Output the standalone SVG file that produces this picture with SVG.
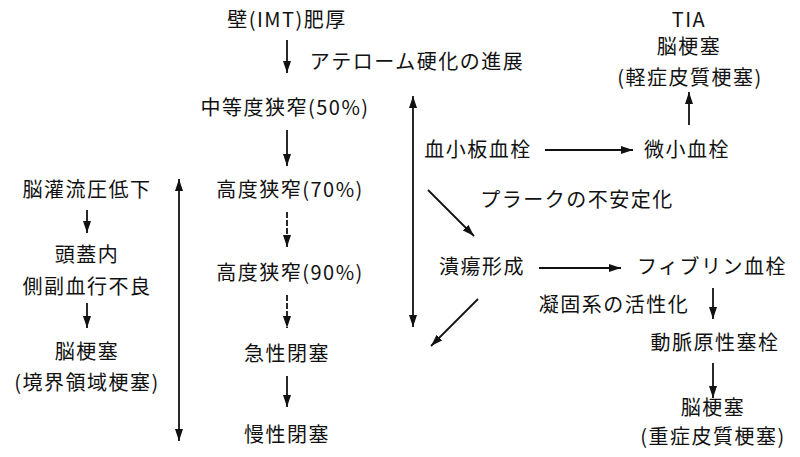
<svg xmlns="http://www.w3.org/2000/svg" width="800" height="457" viewBox="0 0 800 457">
<style>
text{font-family:"Noto Sans CJK JP","Noto Sans",sans-serif;font-size:20px;fill:#111;text-anchor:middle;letter-spacing:1.5px}
.l{text-anchor:start}
line{stroke:#111;stroke-width:1.8}
</style>
<defs>
<marker id="ah" viewBox="0 0 12 8" refX="12" refY="4" markerWidth="12" markerHeight="8" markerUnits="userSpaceOnUse" orient="auto-start-reverse">
<path d="M0,0 L12,4 L0,8 Z" fill="#111"/>
</marker>
</defs>
<rect width="800" height="457" fill="#fff"/>
<g id="n_imt"><text x="287" y="27">壁(IMT)肥厚</text></g>
<g id="n_50"><text x="285" y="115">中等度狭窄(50%)</text></g>
<g id="n_70"><text x="290" y="197">高度狭窄(70%)</text></g>
<g id="n_90"><text x="290" y="280">高度狭窄(90%)</text></g>
<g id="n_acute"><text x="287" y="361">急性閉塞</text></g>
<g id="n_chronic"><text x="287" y="442">慢性閉塞</text></g>
<g id="n_perf"><text x="87" y="197">脳灌流圧低下</text></g>
<g id="n_coll"><text x="87" y="262">頭蓋内</text><text x="87" y="294">側副血行不良</text></g>
<g id="n_inf1"><text x="87" y="359">脳梗塞</text><text x="87" y="390">(境界領域梗塞)</text></g>
<g id="n_plt"><text x="478" y="157">血小板血栓</text></g>
<g id="n_micro"><text x="687" y="157">微小血栓</text></g>
<g id="n_tia"><text x="689" y="27">TIA</text><text x="689" y="54">脳梗塞</text><text x="690" y="85">(軽症皮質梗塞)</text></g>
<g id="n_plaque"><text x="577" y="207">プラークの不安定化</text></g>
<g id="n_ulcer"><text x="482" y="274">潰瘍形成</text></g>
<g id="n_fibrin"><text x="712" y="274">フィブリン血栓</text></g>
<g id="n_coag"><text x="614" y="312">凝固系の活性化</text></g>
<g id="n_emb"><text x="715" y="350">動脈原性塞栓</text></g>
<g id="n_inf2"><text x="713" y="415">脳梗塞</text><text x="713" y="444">(重症皮質梗塞)</text></g>
<g id="n_ath"><text x="417" y="69">アテローム硬化の進展</text></g>
<g id="connectors">
<line x1="287" y1="40" x2="287" y2="73" marker-end="url(#ah)"/>
<line x1="287" y1="130" x2="287" y2="166" marker-end="url(#ah)"/>
<line x1="287" y1="212" x2="287" y2="247" marker-end="url(#ah)" stroke-dasharray="6,2"/>
<line x1="287" y1="295" x2="287" y2="328" marker-end="url(#ah)" stroke-dasharray="6,2"/>
<line x1="287" y1="376" x2="287" y2="407" marker-end="url(#ah)"/>
<line x1="87" y1="210" x2="87" y2="233" marker-end="url(#ah)"/>
<line x1="87" y1="303" x2="87" y2="328" marker-end="url(#ah)"/>
<line x1="179" y1="179" x2="179" y2="441" marker-start="url(#ah)" marker-end="url(#ah)"/>
<line x1="413" y1="96" x2="413" y2="327" marker-start="url(#ah)" marker-end="url(#ah)"/>
<line x1="545" y1="150" x2="633" y2="150" marker-end="url(#ah)"/>
<line x1="689" y1="125" x2="689" y2="92" marker-end="url(#ah)"/>
<line x1="428" y1="190" x2="474" y2="236" marker-end="url(#ah)"/>
<line x1="539" y1="268" x2="621" y2="268" marker-end="url(#ah)"/>
<line x1="713" y1="288" x2="713" y2="319" marker-end="url(#ah)"/>
<line x1="713" y1="363" x2="713" y2="398" marker-end="url(#ah)"/>
<line x1="478" y1="299" x2="431" y2="346" marker-end="url(#ah)"/>
</g>
</svg>
